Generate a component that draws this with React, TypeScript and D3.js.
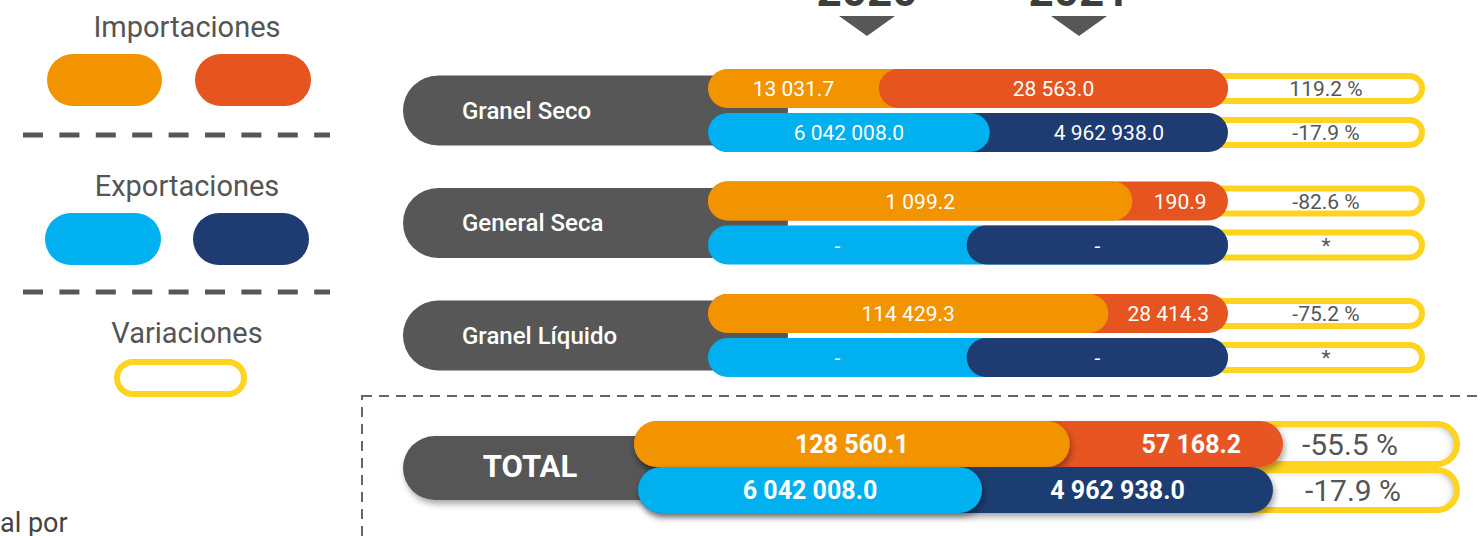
import React, { useEffect } from 'react';
import * as d3 from 'd3';

const categories = ['Granel Seco', 'General Seca', 'Granel Líquido'];
const years = ['2020', '2021'];
const imports2020 = [13031.7, 1099.2, 114429.3];
const imports2021 = [28563.0, 190.9, 28414.3];
const exports2020: (number | null)[] = [6042008.0, null, null];
const exports2021: (number | null)[] = [4962938.0, null, null];
const totalImports = [128560.1, 57168.2];
const totalExports = [6042008.0, 4962938.0];
const legendLabels = ['Importaciones', 'Exportaciones', 'Variaciones'];

const ORANGE = '#F29400';
const RED = '#E65420';
const BLUE = '#00B0EF';
const NAVY = '#1E3C71';
const DARK = '#575757';
const YELLOW = '#FFD31E';
const TEXT = '#555555';
const FONT = "Roboto, 'Noto Sans', sans-serif";

const W = 1480;
const H = 536;

const locale = d3.formatLocale({ decimal: '.', thousands: ' ', grouping: [3], currency: ['', ''], minus: '-' });
const fmtValue = (v: number | null) => (v == null ? '-' : locale.format(',.1f')(v));
const fmtVar = (a: number | null, b: number | null) =>
  a == null || b == null ? '*' : `${locale.format('.1f')((b / a - 1) * 100)} %`;

// where the two pills of a pair meet, from the share of 2020 in the pair
const splitFrac = d3.scaleLinear().domain([0, 1]).range([0.045, 0.95]).clamp(true);
const share = (a: number | null, b: number | null) => (a == null || b == null ? 0.5 : a / (a + b));

type PairProps = {
  cy: number; h: number; x0: number; x1: number;
  a: number | null; b: number | null; ca: string; cb: string;
  size: number; weight: number; shadow?: boolean; shiftB?: number;
};

const Pair = ({ cy, h, x0, x1, a, b, ca, cb, size, weight, shadow, shiftB = 0 }: PairProps) => {
  const x = d3.scaleLinear().domain([0, 1]).range([x0, x1]);
  const split = x(splitFrac(share(a, b)));
  const r = h / 2;
  const f = shadow ? 'url(#drop)' : undefined;
  // the larger value sits on top; with no data the 2021 pill does
  const aOnTop = a != null && b != null && a > b;
  return (
    <g>
      {aOnTop ? (
        <>
          <rect x={x0} y={cy - r} width={x1 - x0} height={h} rx={r} fill={cb} filter={f} />
          <rect x={x0} y={cy - r} width={split - x0} height={h} rx={r} fill={ca} filter={f} />
        </>
      ) : (
        <>
          <rect x={x0} y={cy - r} width={x1 - x0} height={h} rx={r} fill={ca} filter={f} />
          <rect x={split} y={cy - r} width={x1 - split} height={h} rx={r} fill={cb} filter={f} />
        </>
      )}
      <text x={(x0 + split) / 2} y={cy + size * 0.36} textAnchor="middle" fill="#fff"
        fontSize={size} fontWeight={weight} fontFamily={FONT}>{fmtValue(a)}</text>
      <text x={(split + x1) / 2 + shiftB} y={cy + size * 0.36} textAnchor="middle" fill="#fff"
        fontSize={size} fontWeight={weight} fontFamily={FONT}>{fmtValue(b)}</text>
    </g>
  );
};

const VarPill = ({ cy, h, x0, x1, tx, label, size, inset }: any) => (
  <g>
    <rect x={x0} y={cy - h / 2} width={x1 - x0} height={h} rx={h / 2} fill="#fff"
      filter={inset ? 'url(#inset)' : undefined} />
    <rect x={x0} y={cy - h / 2} width={x1 - x0} height={h} rx={h / 2} fill="none"
      stroke={YELLOW} strokeWidth={6} />
    <text x={tx} y={cy + size * 0.36} textAnchor="middle" fill={TEXT} fontSize={size}
      fontFamily={FONT}>{label}</text>
  </g>
);

export default function App() {
  useEffect(() => {
    document.body.style.margin = '0';
  }, []);

  const rowY = d3.scalePoint<string>().domain(categories).range([110.5, 335.5]);
  const yearX = d3.scalePoint<string>().domain(years).range([867, 1079]);
  const legendY = [37, 196, 343];

  const rowX0 = 708;
  const rowX1 = 1228;
  const barH = 39;
  const totCy = 466;
  const totH = 46;

  return (
    <svg width={W} height={H} style={{ display: 'block' }}>
      <defs>
        <filter id="drop" x="-10%" y="-40%" width="120%" height="200%">
          <feDropShadow dx="2" dy="4" stdDeviation="3" floodColor="#000" floodOpacity="0.35" />
        </filter>
        <filter id="inset" x="-5%" y="-20%" width="110%" height="140%">
          <feFlood floodColor="#000" floodOpacity="0.5" />
          <feComposite in2="SourceAlpha" operator="out" />
          <feGaussianBlur stdDeviation="3" />
          <feOffset dx="-4" dy="2" />
          <feComposite in2="SourceAlpha" operator="in" result="sh" />
          <feMerge>
            <feMergeNode in="SourceGraphic" />
            <feMergeNode in="sh" />
          </feMerge>
        </filter>
      </defs>

      {/* legend */}
      {legendLabels.map((l, i) => (
        <text key={l} x={187} y={legendY[i]} textAnchor="middle" fill={TEXT} fontSize={29}
          fontFamily={FONT}>{l}</text>
      ))}
      <rect x={47} y={54} width={115} height={52} rx={26} fill={ORANGE} />
      <rect x={195} y={54} width={116} height={52} rx={26} fill={RED} />
      <rect x={45} y={213} width={116} height={52} rx={26} fill={BLUE} />
      <rect x={193} y={213} width={116} height={52} rx={26} fill={NAVY} />
      {[135, 292].map((y) => (
        <line key={y} x1={23} x2={330} y1={y} y2={y} stroke={DARK} strokeWidth={5} strokeDasharray="20 16.4" />
      ))}
      <rect x={117} y={362} width={127} height={32} rx={16} fill="#fff" stroke={YELLOW} strokeWidth={6} />
      <text x={0} y={532} fill="#444" fontSize={27} fontFamily={FONT}>al por</text>

      {/* years */}
      {years.map((yr) => {
        const cx = yearX(yr) as number;
        return (
          <g key={yr}>
            <text x={cx} y={6} textAnchor="middle" fill="#3d3d3d" fontSize={44} fontWeight={700}
              fontFamily={FONT}>{yr}</text>
            <path d={`M${cx - 28},16L${cx + 28},16L${cx},36Z`} fill={DARK} />
          </g>
        );
      })}

      {/* category rows */}
      {categories.map((c, i) => {
        const cy = rowY(c) as number;
        const yi = cy - 22;
        const ye = cy + 22;
        return (
          <g key={c}>
            <VarPill cy={yi} h={25} x0={rowX1 - 50} x1={1422} tx={1326} size={21}
              label={fmtVar(imports2020[i], imports2021[i])} />
            <VarPill cy={ye} h={25} x0={rowX1 - 50} x1={1422} tx={1326} size={21}
              label={fmtVar(exports2020[i], exports2021[i])} />
            <rect x={403} y={cy - 35} width={385} height={70} rx={35} fill={DARK} />
            <text x={462} y={cy + 8} fill="#fff" fontSize={24} fontWeight={500} fontFamily={FONT}>{c}</text>
            <Pair cy={yi} h={barH} x0={rowX0} x1={rowX1} a={imports2020[i]} b={imports2021[i]}
              ca={ORANGE} cb={RED} size={21} weight={400} />
            <Pair cy={ye} h={barH} x0={rowX0} x1={rowX1} a={exports2020[i]} b={exports2021[i]}
              ca={BLUE} cb={NAVY} size={21} weight={400} />
          </g>
        );
      })}

      {/* total box */}
      <rect x={362} y={396} width={1300} height={300} fill="none" stroke="#666" strokeWidth={2}
        strokeDasharray="10 7" />
      <VarPill cy={totCy - 22} h={40} x0={1200} x1={1457} tx={1350} size={30} inset
        label={fmtVar(totalImports[0], totalImports[1])} />
      <VarPill cy={totCy + 24} h={40} x0={1200} x1={1457} tx={1353} size={30} inset
        label={fmtVar(totalExports[0], totalExports[1])} />
      <rect x={403} y={436} width={320} height={64} rx={32} fill={DARK} filter="url(#drop)" />
      <text x={530} y={477} textAnchor="middle" fill="#fff" fontSize={31} fontWeight={700}
        fontFamily={FONT}>TOTAL</text>
      <Pair cy={totCy - 22} h={totH} x0={634} x1={1283} a={totalImports[0]} b={totalImports[1]}
        ca={ORANGE} cb={RED} size={25} weight={700} shadow shiftB={15} />
      <Pair cy={totCy + 24} h={totH} x0={638} x1={1273} a={totalExports[0]} b={totalExports[1]}
        ca={BLUE} cb={NAVY} size={25} weight={700} shadow shiftB={-10} />
    </svg>
  );
}
